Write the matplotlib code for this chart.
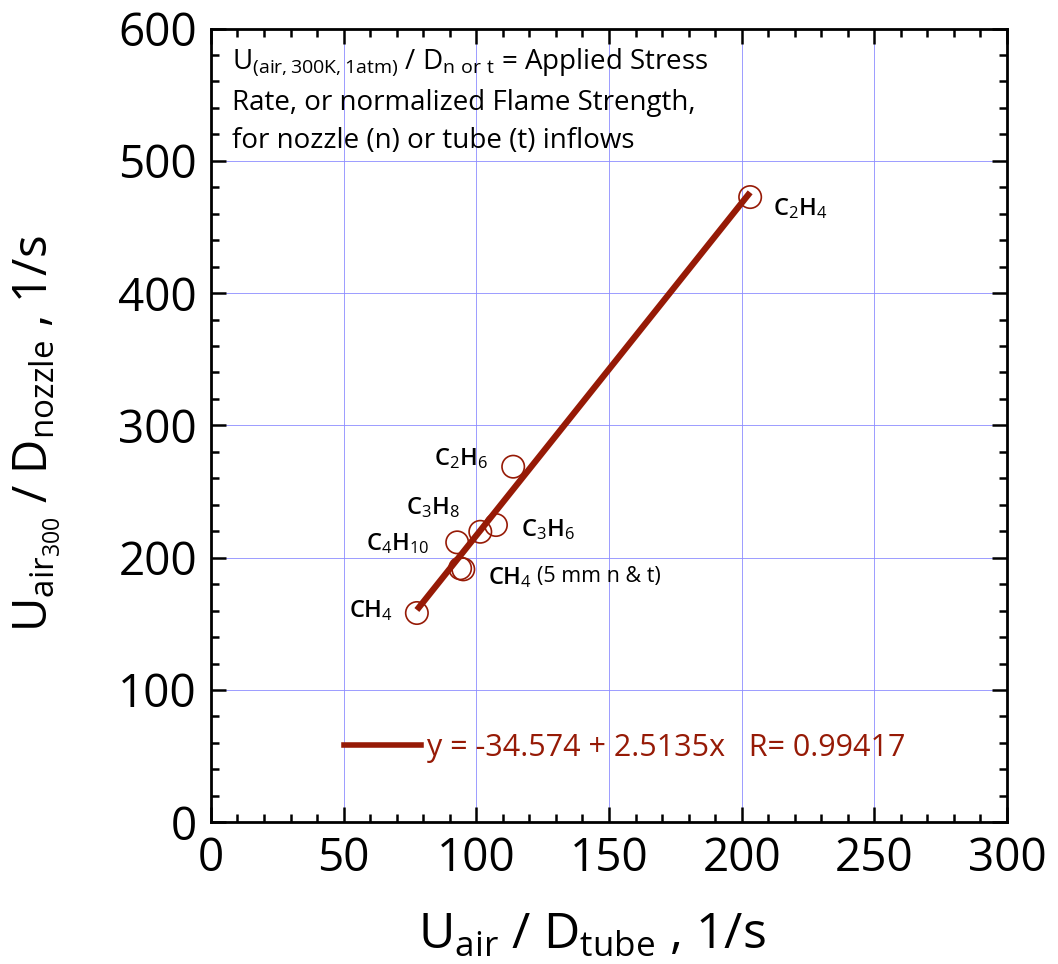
import matplotlib
matplotlib.use("Agg")
import matplotlib.pyplot as plt
from matplotlib.ticker import MultipleLocator

plt.rcParams['font.family'] = ['Open Sans', 'DejaVu Sans']
plt.rcParams['mathtext.fontset'] = 'custom'
plt.rcParams['mathtext.rm'] = 'Open Sans'
plt.rcParams['mathtext.it'] = 'Open Sans'
plt.rcParams['mathtext.bf'] = 'Open Sans:semibold'

# Measured flame strengths: tube-based vs nozzle-based stress rates (1/s)
species = ['CH4', 'C4H10', 'CH4 5mm a', 'CH4 5mm b', 'C3H8', 'C3H6', 'C2H6', 'C2H4']
x_tube = [77.6, 92.8, 93.9, 95.1, 101.5, 107.4, 113.9, 203.2]
y_nozzle = [158.2, 211.6, 192.0, 191.2, 219.6, 224.7, 268.8, 472.6]

# Linear fit reported in the legend
fit_a = -34.574
fit_b = 2.5135
fit_r = 0.99417

red = '#961a06'

fig = plt.figure(figsize=(10.58, 9.64), dpi=100)
ax = fig.add_axes([0.1994, 0.147, 0.7524, 0.8234])

ax.set_xlim(0, 300)
ax.set_ylim(0, 600)
ax.xaxis.set_major_locator(MultipleLocator(50))
ax.xaxis.set_minor_locator(MultipleLocator(10))
ax.yaxis.set_major_locator(MultipleLocator(100))
ax.yaxis.set_minor_locator(MultipleLocator(20))
ax.grid(True, which='major', color='#8c8cff', linewidth=0.6)
ax.set_axisbelow(True)
ax.tick_params(which='both', direction='in', top=True, right=True, width=1.8, colors='black')
ax.tick_params(which='major', length=11, labelsize=33, pad=10)
ax.tick_params(which='minor', length=6)
for s in ax.spines.values():
    s.set_linewidth(2)

# fit line across the data range
xs = [min(x_tube), max(x_tube)]
ax.plot(xs, [fit_a + fit_b * v for v in xs], color=red, linewidth=4.5, solid_capstyle='butt', zorder=3)
ax.scatter(x_tube, y_nozzle, s=260, facecolors='none', edgecolors=red, linewidths=1.2, zorder=4)

# species labels
lab_kw = dict(fontsize=17, fontweight='semibold', va='center', ha='left')
ax.text(211.8, 464, r'C$_2$H$_4$', **lab_kw)
ax.text(84.0, 275, r'C$_2$H$_6$', **lab_kw)
ax.text(73.5, 237.6, r'C$_3$H$_8$', **lab_kw)
ax.text(58.4, 211, r'C$_4$H$_{10}$', **lab_kw)
ax.text(116.8, 221, r'C$_3$H$_6$', **lab_kw)
ax.text(52.0, 159.8, r'CH$_4$', **lab_kw)
ax.text(104.4, 184.6, r'CH$_4$', **lab_kw)
ax.text(123.0, 185.6, '(5 mm n & t)', fontsize=15.5, va='center', ha='left')

# explanatory note
note_kw = dict(transform=ax.transAxes, fontsize=20, va='center', ha='left')
ax.text(0.026, 0.957, r'U$_{(air,300K,1atm)}$ / D$_{n\ or\ t}$ = Applied Stress', **note_kw)
ax.text(0.026, 0.906, 'Rate, or normalized Flame Strength,', **note_kw)
ax.text(0.026, 0.858, 'for nozzle (n) or tube (t) inflows', **note_kw)

# fit legend
ax.plot([50, 79], [58.4, 58.4], color=red, linewidth=4)
ax.text(81.5, 56.5, f'y = {fit_a} + {fit_b}x   R= {fit_r}', color=red,
        fontsize=22, va='center', ha='left')

ax.set_xlabel(r'U$_{air}$ / D$_{tube}$ , 1/s', fontsize=36)
ax.xaxis.set_label_coords(0.478, -0.112)
ax.set_ylabel(r'U$_{air_{300}}$ / D$_{nozzle}$ , 1/s', fontsize=34)
ax.yaxis.set_label_coords(-0.186, 0.49)

fig.savefig('out.png', dpi=100)
